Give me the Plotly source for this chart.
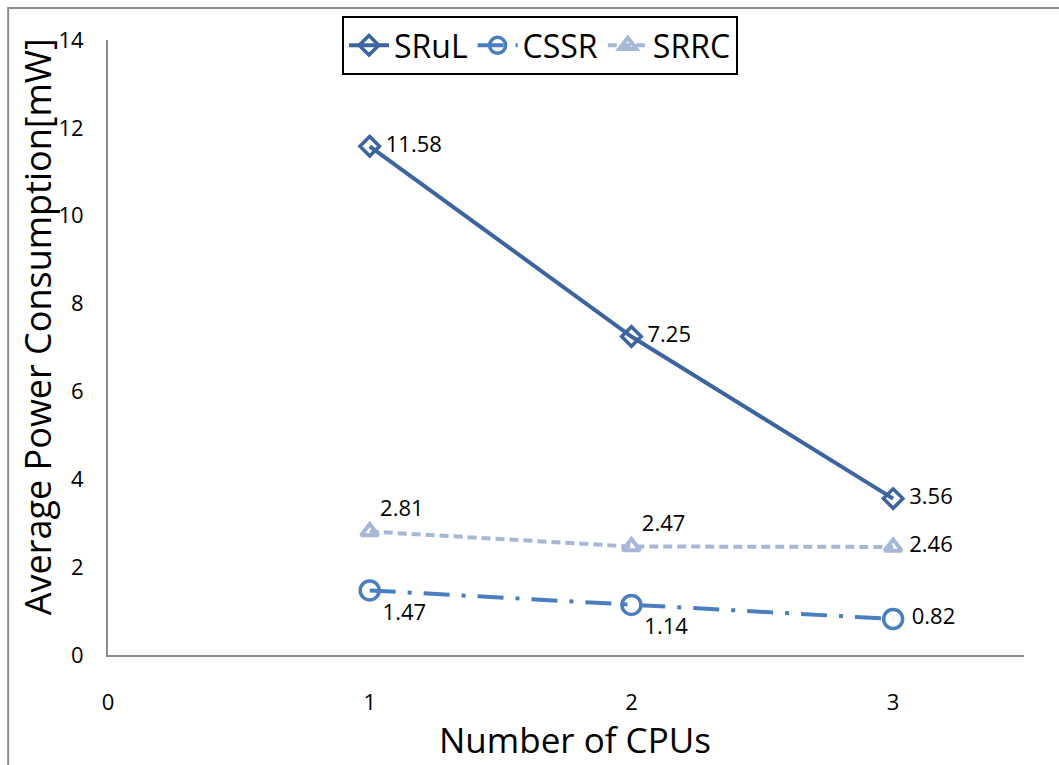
import plotly.graph_objects as go

cpus = [1, 2, 3]
srul = [11.58, 7.25, 3.56]
cssr = [1.47, 1.14, 0.82]
srrc = [2.81, 2.47, 2.46]
x_ticks = [0, 1, 2, 3]
y_ticks = [0, 2, 4, 6, 8, 10, 12, 14]

FONT = "'Open Sans', Lato, sans-serif"
LBL = dict(size=22, color="black", family=FONT)

fig = go.Figure()
fig.add_trace(go.Scatter(
    x=cpus, y=srul, name="SRuL", mode="lines+markers+text",
    line=dict(color="#3B64A0", width=4),
    marker=dict(symbol="diamond-open", size=15, color="#3B64A0", line=dict(width=3.5)),
    text=[f" {v:.2f}" for v in srul], textposition="middle right", textfont=LBL))
fig.add_trace(go.Scatter(
    x=cpus, y=cssr, name="CSSR", mode="lines+markers+text",
    line=dict(color="#4A7EBF", width=4, dash="26px,12px,4px,12px"),
    marker=dict(symbol="circle-open", size=19, color="#4A7EBF", line=dict(width=3.5)),
    text=[f"{v:.2f}" if i < 2 else f" {v:.2f}" for i, v in enumerate(cssr)],
    textposition=["bottom right", "bottom right", "middle right"], textfont=LBL))
fig.add_trace(go.Scatter(
    x=cpus, y=srrc, name="SRRC", mode="lines+markers+text",
    line=dict(color="#A7B7D7", width=4, dash="9px,5px"),
    marker=dict(symbol="triangle-up-open", size=15, color="#A7B7D7", line=dict(width=4)),
    text=[f"{v:.2f}" if i < 2 else f" {v:.2f}" for i, v in enumerate(srrc)],
    textposition=["top right", "top right", "middle right"], textfont=LBL))

fig.add_shape(type="rect", xref="paper", yref="paper",
              x0=-0.109, y0=-0.3, x1=1.2, y1=1.052,
              line=dict(color="#8C8C8C", width=2), fillcolor="rgba(0,0,0,0)", layer="below")

fig.add_annotation(text="Average Power Consumption[mW]", xref="paper", yref="paper",
                   x=-0.0775, y=0.533, xanchor="center", yanchor="middle", textangle=-90,
                   showarrow=False, font=dict(size=36, family=FONT, color="black"))
fig.add_annotation(text="Number of CPUs", xref="paper", yref="paper",
                   x=0.51, y=-0.137, xanchor="center", yanchor="middle",
                   showarrow=False, font=dict(size=35, family=FONT, color="black"))

fig.update_layout(
    width=1059, height=765,
    margin=dict(l=108, r=35, t=40, b=110),
    plot_bgcolor="white", paper_bgcolor="white",
    font=dict(family=FONT, color="black"),
    legend=dict(orientation="h", x=0.4716, xanchor="center", y=1.039, yanchor="top",
                bordercolor="black", borderwidth=2, bgcolor="white",
                font=dict(size=32, family=FONT), itemwidth=40, tracegroupgap=0),
    xaxis=dict(range=[0, 3.5], tickvals=x_ticks, ticktext=[str(t) for t in x_ticks],
               showgrid=False, zeroline=False, showline=True, linecolor="#8C8C8C", linewidth=2,
               ticks="", tickfont=dict(size=22), ticklabelstandoff=27, automargin=False),
    yaxis=dict(range=[0, 14], tickvals=y_ticks, ticktext=[str(t) for t in y_ticks],
               showgrid=False, zeroline=False, showline=True, linecolor="#8C8C8C", linewidth=2,
               ticks="", tickfont=dict(size=22), ticklabelstandoff=18, automargin=False),
)

fig.write_html("out.html")
